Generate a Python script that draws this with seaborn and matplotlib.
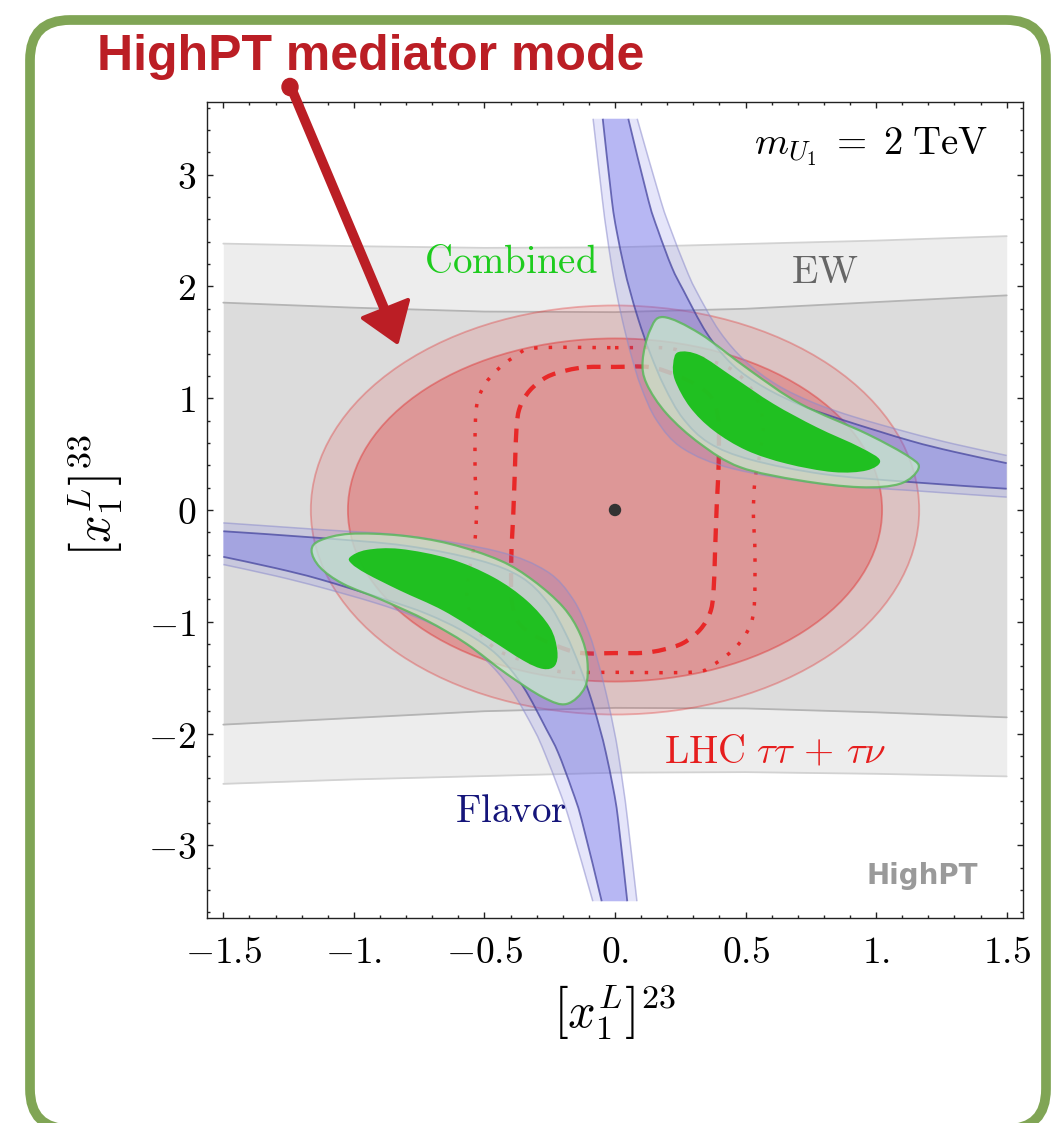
import matplotlib
matplotlib.use("Agg")
import numpy as np
import pandas as pd
import seaborn as sns
import matplotlib.pyplot as plt
from matplotlib.patches import Polygon, Ellipse, FancyBboxPatch, Circle, PathPatch
from matplotlib.path import Path
from matplotlib.lines import Line2D
from matplotlib.ticker import MultipleLocator

# ---------------- data ----------------
# EW band (grey), boundaries sampled at these x values
EW_x = [-1.5, -1.0, -0.5, 0.0, 0.5, 1.0, 1.5]
EW_2s_upper = [2.383, 2.36, 2.345, 2.35, 2.38, 2.41, 2.45]
EW_2s_lower = [-2.45, -2.41, -2.38, -2.35, -2.345, -2.36, -2.383]
EW_1s_upper = [1.855, 1.81, 1.775, 1.77, 1.80, 1.86, 1.92]
EW_1s_lower = [-1.92, -1.86, -1.80, -1.77, -1.775, -1.81, -1.855]

# LHC tau tau + tau nu (red) : filled ellipses
LHC_center = (0.0, 0.0)
LHC_2s_semi_axes = (1.165, 1.83)
LHC_1s_semi_axes = (1.023, 1.535)

# LHC expected contours (dashed / dotted), closed curves
LHC_dash_x = [-0.108, 0.0, 0.134, 0.236, 0.326, 0.377, 0.396, 0.398, 0.396, 0.390, 0.383, 0.377,
              0.364, 0.326, 0.262, 0.185, 0.108, 0.0, -0.134, -0.236, -0.326, -0.377, -0.396,
              -0.398, -0.396, -0.390, -0.383, -0.377, -0.364, -0.326, -0.262, -0.185]
LHC_dash_y = [1.278, 1.28, 1.278, 1.204, 1.099, 0.980, 0.801, 0.622, 0.333, 0.064, -0.383, -0.741,
              -0.920, -1.070, -1.189, -1.249, -1.278, -1.28, -1.278, -1.204, -1.099, -0.980, -0.801,
              -0.622, -0.333, -0.064, 0.383, 0.741, 0.920, 1.070, 1.189, 1.249]
LHC_dot_x = [0.0, 0.198, 0.275, 0.364, 0.453, 0.517, 0.555, 0.568, 0.555, 0.536, 0.530,
             0.536, 0.532, 0.504, 0.453, 0.377, 0.30, 0.0, -0.198, -0.275, -0.364, -0.453, -0.517,
             -0.555, -0.568, -0.555, -0.536, -0.530, -0.536, -0.532, -0.504, -0.453, -0.377, -0.30]
LHC_dot_y = [1.452, 1.449, 1.40, 1.338, 1.249, 1.099, 0.92, 0.741, 0.503, 0.264, -0.034,
             -0.383, -0.891, -1.099, -1.249, -1.383, -1.45, -1.452, -1.449, -1.40, -1.338, -1.249,
             -1.099, -0.92, -0.741, -0.503, -0.264, 0.034, 0.383, 0.891, 1.099, 1.249, 1.383, 1.45]

# Flavor band (blue), upper-right branch: side A (towards origin) and side B
FLV_UA_light_x = [-0.084, -0.048, -0.033, -0.012, 0.004, 0.028, 0.06, 0.10, 0.16, 0.26, 0.45, 0.8, 1.13, 1.5]
FLV_UA_light_y = [3.5, 2.77, 2.5, 2.17, 1.965, 1.70, 1.40, 1.10, 0.80, 0.55, 0.37, 0.23, 0.175, 0.115]
FLV_UA_dark_x = [-0.047, -0.012, 0.006, 0.035, 0.057, 0.09, 0.135, 0.19, 0.26, 0.36, 0.52, 0.8, 1.13, 1.5]
FLV_UA_dark_y = [3.5, 2.77, 2.5, 2.17, 1.965, 1.70, 1.40, 1.10, 0.82, 0.60, 0.45, 0.32, 0.25, 0.19]
FLV_UB_dark_x = [0.051, 0.128, 0.165, 0.218, 0.262, 0.352, 0.45, 0.57, 0.72, 0.88, 1.13, 1.30, 1.5]
FLV_UB_dark_y = [3.5, 2.77, 2.5, 2.17, 1.965, 1.58, 1.30, 1.10, 0.93, 0.80, 0.62, 0.52, 0.419]
FLV_UB_light_x = [0.085, 0.175, 0.215, 0.27, 0.31, 0.40, 0.50, 0.62, 0.76, 0.92, 1.13, 1.30, 1.5]
FLV_UB_light_y = [3.5, 2.77, 2.5, 2.17, 1.965, 1.60, 1.33, 1.12, 0.96, 0.83, 0.69, 0.59, 0.488]
# lower-left branch
FLV_LA_light_x = [0.084, 0.048, 0.033, 0.012, -0.004, -0.028, -0.06, -0.10, -0.16, -0.26, -0.45, -0.8, -1.13, -1.5]
FLV_LA_light_y = [-3.5, -2.77, -2.5, -2.17, -1.965, -1.70, -1.40, -1.10, -0.80, -0.55, -0.37, -0.23, -0.175, -0.115]
FLV_LA_dark_x = [0.047, 0.012, -0.006, -0.035, -0.057, -0.09, -0.135, -0.19, -0.26, -0.36, -0.52, -0.8, -1.13, -1.5]
FLV_LA_dark_y = [-3.5, -2.77, -2.5, -2.17, -1.965, -1.70, -1.40, -1.10, -0.82, -0.60, -0.45, -0.32, -0.25, -0.19]
FLV_LB_dark_x = [-0.051, -0.128, -0.165, -0.218, -0.262, -0.352, -0.45, -0.57, -0.72, -0.88, -1.13, -1.30, -1.5]
FLV_LB_dark_y = [-3.5, -2.77, -2.5, -2.17, -1.965, -1.58, -1.30, -1.10, -0.93, -0.80, -0.62, -0.52, -0.419]
FLV_LB_light_x = [-0.085, -0.175, -0.215, -0.27, -0.31, -0.40, -0.50, -0.62, -0.76, -0.92, -1.13, -1.30, -1.5]
FLV_LB_light_y = [-3.5, -2.77, -2.5, -2.17, -1.965, -1.60, -1.33, -1.12, -0.96, -0.83, -0.69, -0.59, -0.488]

# Combined (green) regions, closed outlines
CMB_UR_2s_x = [0.185, 0.326, 0.517, 0.709, 0.964, 1.128, 1.162, 1.092, 0.938, 0.709, 0.479, 0.326, 0.198, 0.121, 0.106, 0.134]
CMB_UR_2s_y = [1.726, 1.577, 1.249, 0.951, 0.682, 0.473, 0.369, 0.235, 0.204, 0.264, 0.383, 0.593, 0.861, 1.130, 1.338, 1.607]
CMB_UR_1s_x = [0.243, 0.326, 0.453, 0.606, 0.772, 0.938, 1.015, 0.964, 0.836, 0.658, 0.504, 0.377, 0.287, 0.230, 0.223]
CMB_UR_1s_y = [1.413, 1.383, 1.189, 0.951, 0.741, 0.562, 0.443, 0.354, 0.339, 0.414, 0.533, 0.712, 0.920, 1.159, 1.309]
CMB_LL_2s_x = [-1.162, -1.130, -1.015, -0.823, -0.632, -0.440, -0.313, -0.198, -0.134, -0.106, -0.115, -0.185,
               -0.275, -0.415, -0.568, -0.721, -0.887, -1.041, -1.130]
CMB_LL_2s_y = [-0.363, -0.273, -0.213, -0.228, -0.303, -0.452, -0.631, -0.870, -1.108, -1.347, -1.586, -1.735,
               -1.676, -1.466, -1.198, -0.989, -0.810, -0.661, -0.512]
CMB_LL_1s_x = [-1.015, -0.951, -0.823, -0.632, -0.466, -0.338, -0.249, -0.221, -0.230, -0.275, -0.351, -0.491,
               -0.658, -0.823, -0.951, -1.008]
CMB_LL_1s_y = [-0.422, -0.357, -0.348, -0.437, -0.601, -0.810, -1.049, -1.258, -1.392, -1.422, -1.347, -1.139,
               -0.900, -0.721, -0.571, -0.482]

# best-fit / SM point
SM_point_x = [0.0]
SM_point_y = [0.0]

x_ticks = [-1.5, -1.0, -0.5, 0.0, 0.5, 1.0, 1.5]
x_ticklabels = [r"$-1.5$", r"$-1.$", r"$-0.5$", r"$0.$", r"$0.5$", r"$1.$", r"$1.5$"]
y_ticks = [-3, -2, -1, 0, 1, 2, 3]
y_ticklabels = [r"$-3$", r"$-2$", r"$-1$", r"$0$", r"$1$", r"$2$", r"$3$"]


# ---------------- smooth-curve rendering helper (curve passes through the read points) ----------------
def smooth_segments(xs, ys, closed):
    pts = np.column_stack([xs, ys]).astype(float)
    n = len(pts)
    verts, codes = [pts[0]], [Path.MOVETO]
    nseg = n if closed else n - 1
    for i in range(nseg):
        p1 = pts[i]
        p2 = pts[(i + 1) % n]
        p0 = pts[i - 1] if (closed or i > 0) else pts[i]
        p3 = pts[(i + 2) % n] if (closed or i + 2 < n) else pts[i + 1]
        verts += [p1 + (p2 - p0) / 6.0, p2 - (p3 - p1) / 6.0, p2]
        codes += [Path.CURVE4] * 3
    return verts, codes


def closed_path(xs, ys):
    v, c = smooth_segments(xs, ys, True)
    v.append(v[0]); c.append(Path.CLOSEPOLY)
    return Path(np.array(v), c)


def open_path(xs, ys):
    v, c = smooth_segments(xs, ys, False)
    return Path(np.array(v), c)


def band_path(ax_, ay_, bx_, by_):
    v1, c1 = smooth_segments(ax_, ay_, False)
    v2, c2 = smooth_segments(list(bx_)[::-1], list(by_)[::-1], False)
    c2[0] = Path.LINETO
    v = v1 + v2 + [v1[0]]
    c = c1 + c2 + [Path.CLOSEPOLY]
    return Path(np.array(v), c)


# ---------------- style ----------------
sns.set_theme(style="ticks")
plt.rcParams["mathtext.fontset"] = "cm"
plt.rcParams["font.family"] = ["DejaVu Sans"]

W, H = 1051, 1123
fig = plt.figure(figsize=(W / 100, H / 100), dpi=100)
fig.patch.set_facecolor("white")
ax = fig.add_axes([207 / W, 1 - 918 / H, (1023 - 207) / W, (918 - 102) / H])
ax.set_facecolor("white")

# EW band
ax.fill_between(EW_x, EW_2s_lower, EW_2s_upper, color="#EDEDED", lw=0, zorder=1)
ax.fill_between(EW_x, EW_1s_lower, EW_1s_upper, color="#DCDCDC", lw=0, zorder=1.1)
for yy, c in [(EW_2s_upper, "#D2D2D2"), (EW_2s_lower, "#D2D2D2"), (EW_1s_upper, "#B4B4B4"), (EW_1s_lower, "#B4B4B4")]:
    sns.lineplot(x=EW_x, y=yy, ax=ax, color=c, linewidth=1.3, sort=False, estimator=None, zorder=1.2)

# LHC ellipses
red = (0.88, 0.19, 0.19)
ax.add_patch(Ellipse(LHC_center, 2 * LHC_2s_semi_axes[0], 2 * LHC_2s_semi_axes[1],
                     facecolor=red + (0.15,), edgecolor=red + (0.35,), lw=1.3, zorder=2))
ax.add_patch(Ellipse(LHC_center, 2 * LHC_1s_semi_axes[0], 2 * LHC_1s_semi_axes[1],
                     facecolor=red + (0.29,), edgecolor=red + (0.45,), lw=1.3, zorder=2.1))

# LHC expected contours
ax.add_patch(PathPatch(closed_path(LHC_dash_x, LHC_dash_y), fill=False, edgecolor="#E82828", lw=3.1,
                       linestyle=(0, (3.2, 2.4)), zorder=2.5))
ax.add_patch(PathPatch(closed_path(LHC_dot_x, LHC_dot_y), fill=False, edgecolor="#E82828", lw=2.5,
                       linestyle=(0, (1, 3.2)), zorder=2.5))

# Flavor band
blue = (0.39, 0.39, 0.90)
for ax_l, ay_l, bx_l, by_l, ax_d, ay_d, bx_d, by_d in [
        (FLV_UA_light_x, FLV_UA_light_y, FLV_UB_light_x, FLV_UB_light_y,
         FLV_UA_dark_x, FLV_UA_dark_y, FLV_UB_dark_x, FLV_UB_dark_y),
        (FLV_LA_light_x, FLV_LA_light_y, FLV_LB_light_x, FLV_LB_light_y,
         FLV_LA_dark_x, FLV_LA_dark_y, FLV_LB_dark_x, FLV_LB_dark_y)]:
    ax.add_patch(PathPatch(band_path(ax_l, ay_l, bx_l, by_l), facecolor=blue + (0.16,), lw=0, zorder=3))
    ax.add_patch(PathPatch(band_path(ax_d, ay_d, bx_d, by_d), facecolor=blue + (0.35,), lw=0, zorder=3.1))
    for xx, yy in [(ax_l, ay_l), (bx_l, by_l)]:
        ax.add_patch(PathPatch(open_path(xx, yy), fill=False, edgecolor=(0.55, 0.55, 0.80, 0.55),
                               lw=1.1, zorder=3.2))
    for xx, yy in [(ax_d, ay_d), (bx_d, by_d)]:
        ax.add_patch(PathPatch(open_path(xx, yy), fill=False, edgecolor=(0.27, 0.27, 0.62, 0.75),
                               lw=1.3, zorder=3.3))

# Combined
for xs, ys in [(CMB_UR_2s_x, CMB_UR_2s_y), (CMB_LL_2s_x, CMB_LL_2s_y)]:
    ax.add_patch(PathPatch(closed_path(xs, ys), facecolor=(0.80, 0.94, 0.81, 0.70),
                           edgecolor=(0.36, 0.72, 0.36, 0.85), lw=1.6, zorder=4))
for xs, ys in [(CMB_UR_1s_x, CMB_UR_1s_y), (CMB_LL_1s_x, CMB_LL_1s_y)]:
    ax.add_patch(PathPatch(closed_path(xs, ys), facecolor=(0.06, 0.75, 0.06, 0.90),
                           edgecolor="none", zorder=4.1))

# SM point
sns.scatterplot(x=SM_point_x, y=SM_point_y, ax=ax, s=80, color="#333333", edgecolor="none", zorder=6)

# labels inside the plot
ax.text(-0.398, 2.215, r"$\mathrm{Combined}$", color="#1ECC1E", fontsize=28, ha="center", va="center", zorder=7)
ax.text(0.804, 2.13, r"$\mathrm{EW}$", color="#666666", fontsize=28, ha="center", va="center", zorder=7)
ax.text(-0.398, -2.69, r"$\mathrm{Flavor}$", color="#15157A", fontsize=28, ha="center", va="center", zorder=7)
ax.text(0.613, -2.17, r"$\mathrm{LHC}\ \tau\tau\,+\,\tau\nu$", color="#E61E1E", fontsize=28,
        ha="center", va="center", zorder=7)
ax.text(1.43, 3.245, r"$m_{U_1}\;=\;2\;\mathrm{TeV}$", color="black", fontsize=28, ha="right", va="center", zorder=7)
ax.text(1.176, -3.27, "HighPT", family="DejaVu Sans", weight="bold", color="#9A9A9A", fontsize=20,
        ha="center", va="center", zorder=7)

# axes cosmetics
ax.set_xlim(-1.5625, 1.5625)
ax.set_ylim(-3.65, 3.65)
ax.set_xticks(x_ticks)
ax.set_xticklabels(x_ticklabels)
ax.set_yticks(y_ticks)
ax.set_yticklabels(y_ticklabels)
ax.xaxis.set_minor_locator(MultipleLocator(0.1))
ax.yaxis.set_minor_locator(MultipleLocator(0.2))
ax.tick_params(which="both", direction="in", top=True, right=True, color="#222222", width=1.0)
ax.tick_params(which="major", length=4.0, labelsize=27, labelcolor="black")
ax.tick_params(which="minor", length=2.0)
ax.tick_params(axis="x", which="major", pad=12)
ax.tick_params(axis="y", which="major", pad=8)
for s in ax.spines.values():
    s.set_color("#222222")
    s.set_linewidth(1.0)
    s.set_visible(True)
ax.grid(False)

ax.set_xlabel(r"$\left[x_1^L\right]^{23}$", fontsize=35, color="black")
ax.set_ylabel(r"$\left[x_1^L\right]^{33}$", fontsize=35, color="black")
ax.xaxis.set_label_coords(0.5, (918 - 983) / 816)
ax.yaxis.set_label_coords((125 - 207) / 816, (918 - 495) / 816)

# ---------------- decoration: frame, title, arrow ----------------
frame = FancyBboxPatch((0.30, -0.06), 10.46 - 0.30, 11.03 + 0.06,
                       boxstyle="round,pad=0,rounding_size=0.4",
                       transform=fig.dpi_scale_trans, facecolor="none",
                       edgecolor="#80A555", lw=7, clip_on=False, zorder=0)
fig.add_artist(frame)

arrow_red = "#BB1E25"
fig.text(97 / W, 1 - 70 / H, "HighPT mediator mode", family="Liberation Sans", weight="bold",
         fontsize=36, color=arrow_red, ha="left", va="baseline")


def fp(px, py):
    return (px / W, 1 - py / H)


p0 = fp(290, 85)
p1 = fp(384, 308)
fig.add_artist(Line2D([p0[0], p1[0]], [p0[1], p1[1]], transform=fig.transFigure, color=arrow_red,
                      lw=7, solid_capstyle="round"))
fig.add_artist(Circle(fp(290, 87), 8 / W, transform=fig.transFigure, color=arrow_red))
head = [fp(363, 318), fp(408, 300), fp(397, 342)]
fig.add_artist(Polygon(head, closed=True, transform=fig.transFigure, facecolor=arrow_red,
                       edgecolor=arrow_red, lw=3, joinstyle="round"))

fig.savefig("out.png", dpi=100)
